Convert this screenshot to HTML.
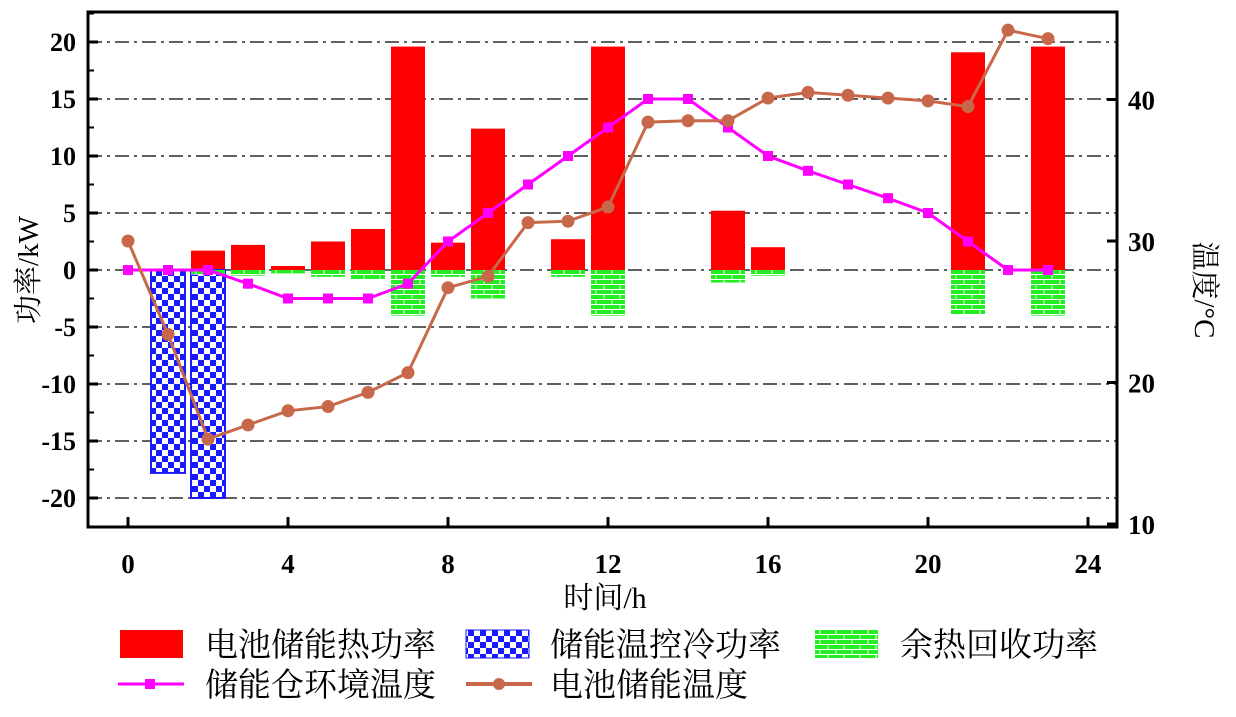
<!DOCTYPE html>
<html><head><meta charset="utf-8"><style>
body{margin:0;background:#fff;}
svg text{font-family:"Liberation Serif","Noto Serif CJK SC",serif;}
</style></head><body>
<svg width="1236" height="712" viewBox="0 0 1236 712" xmlns="http://www.w3.org/2000/svg">
<defs>
<pattern id="chk" width="12" height="12" patternUnits="userSpaceOnUse">
<rect width="12" height="12" fill="#1a1aff"/><rect width="6" height="6" fill="#fff"/><rect x="6" y="6" width="6" height="6" fill="#fff"/></pattern>
<pattern id="brick" width="16" height="10" patternUnits="userSpaceOnUse">
<rect width="16" height="10" fill="#22ee22"/><path d="M0 4.5H16M0 9.5H16M4 0V4.5M12 5V9.5" stroke="#fff" stroke-width="1"/></pattern>
</defs>
<g id="grid"></g>
<g id="bars"></g>
<g id="lines"></g>
<rect x="88" y="12" width="1029" height="515" fill="none" stroke="#000" stroke-width="3"/>
<g id="axes"></g>
<text x="605" y="608" font-size="30" text-anchor="middle">时间/h</text>
<text transform="translate(38,270) rotate(-90)" font-size="29" text-anchor="middle">功率/kW</text>
<text transform="translate(1195,290) rotate(90)" font-size="29" text-anchor="middle">温度/°C</text>
<g font-size="33">
<rect x="120" y="630" width="63" height="28" fill="#ff0000"/>
<text x="205" y="656">电池储能热功率</text>
<rect x="466" y="630" width="63" height="28" fill="url(#chk)" stroke="#1a1aff"/>
<text x="550" y="656">储能温控冷功率</text>
<rect x="815" y="630" width="63" height="28" fill="url(#brick)"/>
<text x="900" y="656">余热回收功率</text>
<line x1="118" y1="684" x2="184" y2="684" stroke="#ff00ff" stroke-width="3"/>
<rect x="145" y="679" width="10" height="10" fill="#ff00ff"/>
<text x="205" y="696">储能仓环境温度</text>
<line x1="466" y1="684" x2="532" y2="684" stroke="#c8684a" stroke-width="4"/>
<circle cx="499" cy="684" r="6" fill="#c8684a"/>
<text x="550" y="696">电池储能温度</text>
</g>
</svg>
<script>
const hours=[0,1,2,3,4,5,6,7,8,9,10,11,12,13,14,15,16,17,18,19,20,21,22,23];
const heatPower=[0,0,1.7,2.2,0.35,2.5,3.6,19.6,2.4,12.4,0,2.7,19.6,0,0,5.2,2.0,0,0,0,0,19.1,0,19.6];
const coolPower=[0,-17.8,-20,0,0,0,0,0,0,0,0,0,0,0,0,0,0,0,0,0,0,0,0,0];
const recoveryPower=[0,0,-0.4,-0.5,-0.3,-0.6,-0.8,-4,-0.6,-2.5,0,-0.6,-4,0,0,-1.1,-0.5,0,0,0,0,-3.9,0,-4];
const ambientTemp=[0,0,0,-1.2,-2.5,-2.5,-2.5,-1.2,2.5,5,7.5,10,12.5,15,15,12.5,10,8.7,7.5,6.3,5,2.5,0,0];
const batteryTemp=[30,23.4,16.0,17,18,18.3,19.3,20.7,26.7,27.5,31.3,31.4,32.4,38.4,38.5,38.5,40.1,40.5,40.3,40.1,39.9,39.5,44.9,44.3];
const xTicks=[0,4,8,12,16,20,24];
const yTicks=[-20,-15,-10,-5,0,5,10,15,20];
const y2Ticks=[10,20,30,40];
const NS="http://www.w3.org/2000/svg";
const X=h=>128+h*40;
const Y=v=>270-v*11.4;
const Y2=t=>241-(t-30)*14.15;
function mk(tag,attrs,parent){const e=document.createElementNS(NS,tag);for(const k in attrs)e.setAttribute(k,attrs[k]);document.getElementById(parent).appendChild(e);return e;}
yTicks.forEach(v=>{
 const g=mk('line',{x1:88,x2:1117,y1:Y(v),y2:Y(v),stroke:'#000','stroke-width':1.3,'stroke-dasharray':'14 5 3 5'},'grid');
 
 
 const t=mk('line',{x1:88,x2:98,y1:Y(v),y2:Y(v),stroke:'#000','stroke-width':3},'axes');
 
 
 const l=mk('text',{x:76,y:Y(v)+9,'font-size':26,'font-weight':'bold','text-anchor':'end'},'axes');l.textContent=v;
 
 
});
for(let v=-22.5;v<=22.5;v+=5){const t=mk('line',{x1:88,x2:94,y1:Y(v),y2:Y(v),stroke:'#000','stroke-width':2},'axes');
 
 }
y2Ticks.forEach(v=>{
 const t=mk('line',{x1:1107,x2:1117,y1:Y2(v),y2:Y2(v),stroke:'#000','stroke-width':3},'axes');
 
 
 const l=mk('text',{x:1128,y:Y2(v)+10,'font-size':27,'font-weight':'bold'},'axes');l.textContent=v;
 
 
});
xTicks.forEach(v=>{
 const t=mk('line',{x1:X(v),x2:X(v),y1:517,y2:527,stroke:'#000','stroke-width':3},'axes');
 
 
 const l=mk('text',{x:X(v),y:573,'font-size':27,'font-weight':'bold','text-anchor':'middle'},'axes');l.textContent=v;
 
 
});
function bar(h,v,fill,stroke,name){
 if(!v)return;
 const y=Math.min(Y(0),Y(v)),hh=Math.abs(Y(v)-Y(0));
 const r=mk('rect',{x:X(h)-17,y:y,width:34,height:hh,fill:fill,stroke:stroke||'none','stroke-width':2},'bars');
 
 
}
hours.forEach((h,i)=>{bar(h,heatPower[i],'#ff0000',null,'heat-bar');bar(h,coolPower[i],'url(#chk)','#1a1aff','cool-bar');bar(h,recoveryPower[i],'url(#brick)',null,'recovery-bar');});
const p1=mk('polyline',{points:hours.map((h,i)=>X(h)+','+Y(ambientTemp[i])).join(' '),fill:'none',stroke:'#ff00ff','stroke-width':3},'lines');


hours.forEach((h,i)=>{const m=mk('rect',{x:X(h)-5,y:Y(ambientTemp[i])-5,width:10,height:10,fill:'#ff00ff'},'lines');
 
 });
const p2=mk('polyline',{points:hours.map((h,i)=>X(h)+','+Y2(batteryTemp[i])).join(' '),fill:'none',stroke:'#c8684a','stroke-width':3},'lines');


hours.forEach((h,i)=>{const m=mk('circle',{cx:X(h),cy:Y2(batteryTemp[i]),r:6.5,fill:'#c8684a'},'lines');
 
 });
</script>
</body></html>
